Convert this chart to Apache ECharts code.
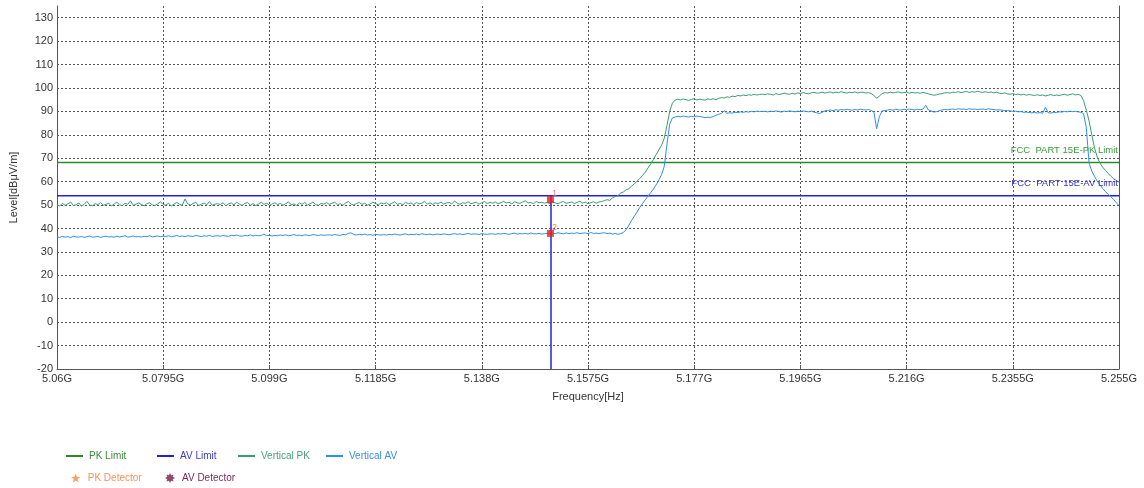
<!DOCTYPE html>
<html><head><meta charset="utf-8">
<script src="https://cdn.jsdelivr.net/npm/echarts@6/dist/echarts.min.js"></script>
<style>html,body{margin:0;padding:0;background:#fff}#c{width:1144px;height:488px}</style>
</head><body><div id="c"></div>
<script>
// ---- axis definitions ----
const startMHz = 5060;          // sweep start
const stopMHz = 5255;           // sweep stop
const stepMHz = 0.5;            // sweep step
const xTickStepMHz = 19.5;
const xTickLabels = ['5.06G','5.0795G','5.099G','5.1185G','5.138G','5.1575G','5.177G','5.1965G','5.216G','5.2355G','5.255G'];
const yMin = -20, yMax = 135, yStep = 10;

// ---- limits ----
const pkLimitValue = 68.2;
const avLimitValue = 54;
const pkLimitLabel = 'FCC  PART 15E-PK Limit';
const avLimitLabel = 'FCC  PART 15E-AV Limit';

// ---- traces (one value per 0.5 MHz from 5060 MHz) ----
const verticalPK = [
50.2,49.6,50.8,49.9,50.5,51.3,49.8,50.1,50.9,49.5,50.4,51.6,50.0,49.7,50.6,50.2,51.1,49.9,50.3,50.8,
49.6,50.5,51.2,50.1,49.8,50.7,50.3,51.8,49.9,50.4,50.9,50.2,49.7,50.6,51.0,50.1,49.8,50.5,51.4,50.2,
50.0,50.8,49.6,50.4,51.1,50.3,49.9,52.6,50.5,50.0,50.7,51.2,49.8,50.3,50.9,50.1,51.5,49.9,50.4,50.6,
50.2,51.0,49.7,50.5,50.9,50.1,51.3,50.4,49.9,50.7,51.1,50.0,50.6,49.8,50.4,51.2,50.3,50.8,49.9,50.5,
51.0,50.2,50.7,49.9,50.6,51.4,50.1,50.5,49.8,50.9,50.3,51.1,50.0,50.6,51.3,50.2,49.9,50.7,50.4,51.0,
50.3,50.8,51.2,50.1,50.6,49.9,50.9,51.5,50.4,50.0,50.7,51.1,50.3,50.8,49.9,50.5,51.2,50.6,50.1,50.9,
50.5,51.0,50.2,50.8,51.4,50.3,50.7,50.1,51.2,50.6,50.9,50.2,51.1,50.5,50.8,51.6,50.4,50.9,50.3,51.0,
50.6,51.3,50.4,50.9,51.1,50.5,51.7,50.8,50.3,51.0,50.7,51.4,50.6,50.9,51.2,50.4,51.0,51.5,50.7,51.1,
50.8,51.3,50.6,51.0,51.6,50.9,51.2,50.5,51.4,51.0,50.7,51.3,51.8,50.9,51.1,50.6,51.5,51.0,51.2,50.8,
51.1,50.7,51.4,50.9,50.6,51.2,51.5,50.8,51.0,51.3,50.7,51.1,51.6,50.9,51.2,50.6,51.0,51.4,50.8,51.3,
51.5,51.9,52.3,52.0,53.1,53.6,54.0,55.2,55.6,56.5,57.0,58.1,59.0,60.2,61.3,62.6,64.0,65.8,67.5,69.4,
71.5,73.5,75.5,78.5,84.0,90.0,93.5,94.8,95.2,94.9,95.3,95.0,94.7,95.1,95.4,94.9,95.2,95.0,94.8,95.3,
95.1,95.4,95.0,95.6,95.9,95.7,96.2,96.0,96.5,96.3,96.8,96.6,97.0,96.7,97.1,96.9,97.3,97.0,97.2,97.4,
97.1,97.5,97.3,97.0,97.6,97.2,97.4,97.8,97.5,97.3,97.7,97.4,97.9,97.6,98.0,97.7,97.5,97.9,98.1,97.8,
97.9,98.2,97.8,98.1,98.3,97.9,98.2,98.0,98.4,98.1,97.8,98.2,98.0,98.3,97.9,98.1,98.2,97.8,98.0,97.6,
96.8,95.6,96.5,97.6,98.0,97.8,98.2,97.9,98.1,98.3,97.9,98.0,98.2,97.8,98.1,97.9,98.0,97.7,98.1,97.8,
97.5,97.2,96.9,97.1,97.4,97.6,97.9,98.0,97.8,98.2,98.1,98.4,98.0,98.3,98.5,98.1,98.4,98.2,98.6,98.3,
98.1,98.4,98.0,98.3,97.9,98.2,97.8,97.6,97.9,97.5,97.3,97.6,97.2,97.4,97.0,97.3,96.9,97.2,97.0,96.8,
97.1,96.8,97.0,96.6,96.9,97.2,96.7,97.0,96.8,97.1,97.3,96.9,97.2,97.5,97.0,97.3,96.8,94.5,90.5,86.0,
80.0,74.5,70.5,68.0,66.2,64.8,63.5,62.3,61.3,60.5,59.8
];
const verticalAV = [
36.4,36.2,36.6,36.3,36.5,36.1,36.7,36.4,36.3,36.6,36.2,36.5,36.8,36.3,36.4,36.6,36.2,36.5,36.7,36.4,
36.5,36.3,36.7,36.4,36.6,36.9,36.3,36.5,36.8,36.4,36.6,36.3,36.7,36.5,36.9,36.4,36.6,36.8,36.5,36.7,
36.6,36.9,36.5,36.7,37.0,36.6,36.8,36.5,36.9,36.7,36.6,37.0,36.8,36.5,36.9,36.7,37.1,36.6,36.8,36.9,
36.7,37.0,36.8,36.6,37.1,36.9,37.2,36.8,36.7,37.0,36.9,37.3,36.8,37.1,36.9,37.0,37.6,36.9,37.1,36.8,
37.0,36.9,37.2,37.0,37.3,36.9,37.1,37.4,37.0,37.2,36.9,37.3,37.1,37.0,37.4,37.2,37.0,37.3,37.1,37.2,
37.3,37.1,37.4,37.2,37.0,37.5,37.3,37.9,38.1,37.4,37.2,37.5,37.3,37.6,37.2,37.4,37.1,37.5,37.3,37.2,
37.4,37.2,37.5,37.3,37.6,37.4,37.2,37.5,37.7,37.3,37.5,37.4,37.6,37.3,37.8,37.5,37.4,37.6,37.3,37.5,
37.6,37.4,37.7,37.5,37.3,37.6,37.8,37.5,37.7,37.4,37.6,37.9,37.5,37.7,37.6,37.4,37.8,37.6,37.5,37.7,
37.7,37.5,37.8,37.6,37.9,37.7,37.5,37.8,38.0,37.6,37.8,37.7,37.9,37.6,38.1,37.8,37.7,37.9,37.6,37.8,
37.9,37.7,38.0,37.8,38.2,37.9,37.7,38.1,37.8,38.0,37.9,38.2,37.8,38.0,38.1,37.8,38.3,37.9,38.0,37.8,
38.0,38.2,37.8,38.0,37.6,37.9,37.5,37.8,38.3,39.5,41.4,43.4,45.2,47.0,49.0,50.6,52.2,53.8,55.3,56.8,
58.6,60.6,63.0,66.5,76.0,84.5,87.2,87.6,87.9,87.7,88.0,87.8,87.6,87.9,87.7,88.0,87.8,87.6,87.3,87.5,
87.4,87.8,88.3,88.8,89.1,90.3,89.2,89.4,89.3,89.6,89.5,89.8,89.6,89.9,89.7,90.0,89.8,90.1,89.9,90.0,
90.0,89.8,90.1,89.9,90.2,90.0,89.7,90.1,89.9,90.2,90.0,89.8,90.1,89.9,90.2,90.0,89.8,90.1,89.7,89.4,
89.1,89.6,90.2,90.4,90.6,90.3,90.7,90.5,90.8,90.6,90.9,90.7,90.5,90.8,90.6,90.9,90.7,90.6,90.8,90.4,
89.6,82.6,87.8,90.2,90.3,90.6,90.8,90.5,90.9,90.7,90.6,90.9,90.7,91.0,90.8,90.6,90.9,90.7,91.0,92.6,
90.6,90.2,89.7,89.9,90.3,90.6,90.8,90.7,90.9,91.0,90.8,91.1,90.9,91.0,90.8,91.1,90.9,91.0,90.8,90.9,
91.0,90.8,91.1,90.9,90.8,90.6,90.7,90.5,90.3,90.4,90.2,90.0,90.1,89.8,89.9,89.6,89.7,89.5,89.4,89.6,
89.3,89.5,89.2,91.8,89.4,89.3,89.6,89.5,89.8,89.7,90.0,89.8,90.1,89.9,90.0,89.8,89.6,89.0,83.0,68.0,
64.5,62.3,60.2,58.6,57.1,55.8,54.6,53.6,52.4,51.0,49.8
];

// ---- detector markers ----
const detectorFreqMHz = 5150.6;
const pkDetector = [52.3];
const avDetector = [37.9];
const detectorMarkLabels = ['1', '2'];

// ---- colours ----
const C = {
  pkLimit: '#2b8a2b', avLimit: '#2424d6', vpk: '#3a9e6e', vav: '#2e8ff0',
  pkDet: '#f28b4a', avDet: '#7d1a4a', mark: '#e8201c', markText: '#e05a5a',
  axis: '#555', grid: '#555', text: '#333'
};

const off = f => f - startMHz;
const toSeries = arr => arr.map((v, i) => [i * stepMHz, v]);

const star5 = 'path://M0,-10L2.35,-3.24L9.51,-3.09L3.8,1.24L5.88,8.09L0,4L-5.88,8.09L-3.8,1.24L-9.51,-3.09L-2.35,-3.24Z';
const star8 = 'path://M10,0L5.54,2.3L7.07,7.07L2.3,5.54L0,10L-2.3,5.54L-7.07,7.07L-5.54,2.3L-10,0L-5.54,-2.3L-7.07,-7.07L-2.3,-5.54L0,-10L2.3,-5.54L7.07,-7.07L5.54,-2.3Z';
const FONT = 'Liberation Sans, Arial, sans-serif';

const legendItems = [
  {name: 'PK Limit', left: 66, top: 451, color: '#3a8a3a', icon: 'rect', w: 17, h: 2},
  {name: 'AV Limit', left: 157, top: 451, color: '#3b3bcc', icon: 'rect', w: 17, h: 2},
  {name: 'Vertical PK', left: 238, top: 451, color: '#4aa07c', icon: 'rect', w: 17, h: 2},
  {name: 'Vertical AV', left: 326, top: 451, color: '#3a8ee8', icon: 'rect', w: 17, h: 2},
  {name: 'PK Detector', left: 71, top: 473, color: '#f0955a', icon: star5, w: 12, h: 9},
  {name: 'AV Detector', left: 165, top: 473, color: '#7a2a5a', icon: star8, w: 12, h: 10}
];

const chart = echarts.init(document.getElementById('c'), null, {renderer: 'canvas'});
chart.setOption({
  animation: false,
  backgroundColor: '#fff',
  textStyle: {fontFamily: FONT},
  grid: {left: 57, right: 25, top: 6, bottom: 119, containLabel: false},
  legend: legendItems.map(it => ({
    left: it.left, top: it.top, itemWidth: it.w, itemHeight: it.h, itemGap: 6,
    padding: 0,
    data: [{name: it.name, icon: it.icon, textStyle: {color: it.color}}],
    textStyle: {fontSize: 10, fontFamily: FONT, padding: [0, 0, 0, 1]}
  })),
  xAxis: {
    type: 'value', min: 0, max: off(stopMHz), interval: xTickStepMHz,
    name: 'Frequency[Hz]', nameLocation: 'middle', nameGap: 22,
    nameTextStyle: {fontSize: 11, color: C.text, fontFamily: FONT},
    axisLine: {show: true, onZero: false, lineStyle: {color: C.axis, width: 1}},
    axisTick: {show: true, inside: true, length: 4, lineStyle: {color: C.axis}},
    axisLabel: {fontSize: 11, color: C.text, margin: 4, fontFamily: FONT,
      formatter: v => xTickLabels[Math.round(v / xTickStepMHz)] || ''},
    splitLine: {show: true, lineStyle: {color: C.grid, type: [2, 2], width: 1}}
  },
  yAxis: [{
    type: 'value', min: yMin, max: yMax, interval: yStep,
    name: 'Level[dBμV/m]', nameLocation: 'middle', nameGap: 38, nameRotate: 90,
    nameTextStyle: {fontSize: 11, color: C.text, fontFamily: FONT},
    axisLine: {show: true, onZero: false, lineStyle: {color: C.axis, width: 1}},
    axisTick: {show: false},
    axisLabel: {fontSize: 11, color: C.text, margin: 4, fontFamily: FONT, showMaxLabel: false,
      formatter: v => (v % yStep === 0 ? String(v) : '')},
    splitLine: {show: true, showMaxLine: false, lineStyle: {color: C.grid, type: [2, 2], width: 1}}
  }, {
    type: 'value', min: yMin, max: yMax, interval: yStep, position: 'right',
    axisLine: {show: true, onZero: false, lineStyle: {color: C.axis, width: 1}},
    axisTick: {show: false}, axisLabel: {show: false}, splitLine: {show: false}
  }],
  series: [
    {
      name: 'PK Limit', type: 'line', color: C.pkLimit, symbol: 'none', z: 2,
      lineStyle: {width: 1.5, color: C.pkLimit},
      data: [[off(startMHz), pkLimitValue], [off(stopMHz), pkLimitValue]],
      markPoint: {
        symbol: 'rect', symbolSize: 0, silent: true,
        label: {show: true, formatter: pkLimitLabel, color: '#3a9a3a', fontSize: 9.5, fontFamily: FONT,
          position: 'left', distance: 1, offset: [0, -12]},
        data: [{coord: [off(stopMHz), pkLimitValue]}]
      }
    },
    {
      name: 'AV Limit', type: 'line', color: C.avLimit, symbol: 'none', z: 2,
      lineStyle: {width: 1.5, color: C.avLimit},
      data: [[off(startMHz), avLimitValue], [off(stopMHz), avLimitValue]],
      markPoint: {
        symbol: 'rect', symbolSize: 0, silent: true,
        label: {show: true, formatter: avLimitLabel, color: '#3a3ad0', fontSize: 9.5, fontFamily: FONT,
          position: 'left', distance: 1, offset: [0, -12]},
        data: [{coord: [off(stopMHz), avLimitValue]}]
      },
      markLine: {
        silent: true, symbol: ['none', 'none'], label: {show: false},
        lineStyle: {color: C.avLimit, width: 1.5, type: 'solid'},
        data: [[{coord: [off(detectorFreqMHz), avLimitValue]}, {coord: [off(detectorFreqMHz), yMin]}]]
      }
    },
    {
      name: 'Vertical PK', type: 'line', color: C.vpk, symbol: 'none', z: 3,
      lineStyle: {width: 1, color: C.vpk},
      data: toSeries(verticalPK)
    },
    {
      name: 'Vertical AV', type: 'line', color: C.vav, symbol: 'none', z: 3,
      lineStyle: {width: 1, color: C.vav},
      data: toSeries(verticalAV)
    },
    {
      name: 'PK Detector', type: 'scatter', color: C.pkDet, z: 5,
      symbol: 'rect', symbolSize: 7,
      data: pkDetector.map(v => ({
        value: [off(detectorFreqMHz), v], itemStyle: {color: C.mark},
        label: {show: true, formatter: detectorMarkLabels[0], position: 'top', distance: 0, offset: [4, 2],
          fontSize: 9, color: C.markText, fontFamily: FONT}
      }))
    },
    {
      name: 'AV Detector', type: 'scatter', color: C.avDet, z: 5,
      symbol: 'rect', symbolSize: 7,
      data: avDetector.map(v => ({
        value: [off(detectorFreqMHz), v], itemStyle: {color: C.mark},
        label: {show: true, formatter: detectorMarkLabels[1], position: 'top', distance: 0, offset: [4, 2],
          fontSize: 9, color: C.markText, fontFamily: FONT}
      }))
    }
  ]
});
</script>
</body></html>
